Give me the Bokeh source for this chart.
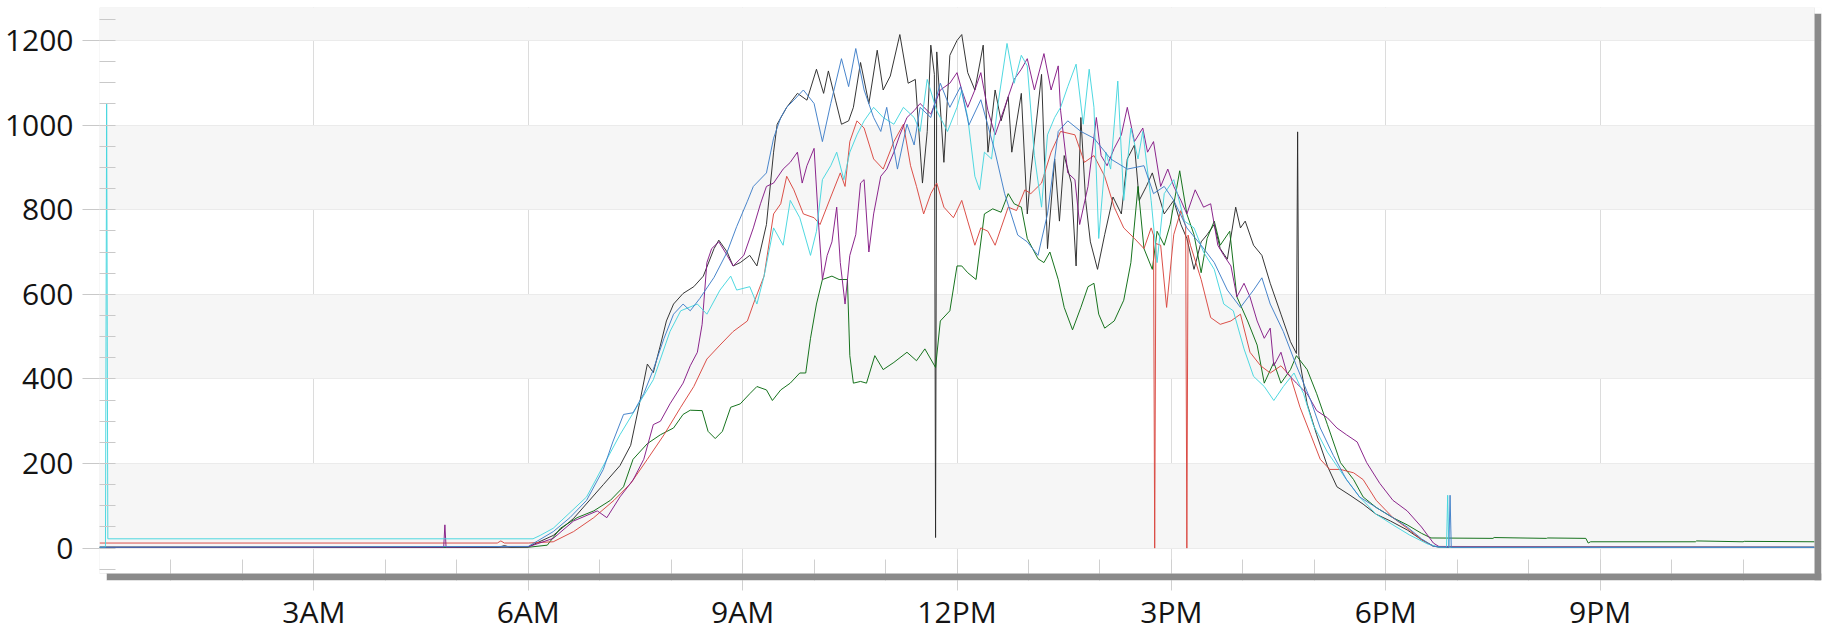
from bokeh.plotting import figure
from bokeh.models import (FixedTicker, SingleIntervalTicker, Range1d, BoxAnnotation, Label)
from bokeh.embed import file_html
from bokeh.resources import INLINE

# ---------------- data (time of day "H:MM", value) ----------------
x_tick_hours = [3, 6, 9, 12, 15, 18, 21]
x_tick_labels = ["3AM", "6AM", "9AM", "12PM", "3PM", "6PM", "9PM"]

black_time = ["0:00", "5:35", "5:40", "5:45", "6:00", "6:21", "6:38", "7:03", "7:17", "7:26", "7:34", "7:40", "7:45",
              "7:51", "7:56", "8:02", "8:10", "8:19", "8:27", "8:36", "8:40", "8:47", "8:52", "8:58", "9:06", "9:12",
              "9:20", "9:26", "9:29", "9:37", "9:46", "9:54", "10:02", "10:08", "10:12", "10:18", "10:23", "10:29",
              "10:33", "10:39", "10:46", "10:53", "10:58", "11:04", "11:12", "11:19", "11:25", "11:31", "11:35",
              "11:38", "11:41", "11:42", "11:43", "11:49", "11:54", "12:00", "12:04", "12:09", "12:15", "12:22",
              "12:26", "12:32", "12:37", "12:43", "12:46", "12:54", "12:59", "13:02", "13:11", "13:16", "13:22",
              "13:26", "13:30", "13:36", "13:40", "13:44", "13:48", "13:52", "13:58", "14:04", "14:11", "14:18",
              "14:23", "14:29", "14:33", "14:39", "14:44", "14:48", "14:54", "14:58", "15:02", "15:08", "15:13",
              "15:19", "15:25", "15:30", "15:36", "15:41", "15:47", "15:54", "15:58", "16:02", "16:09", "16:16",
              "16:23", "16:32", "16:40", "16:45", "16:46", "16:47", "16:54", "17:02", "17:11", "17:19", "17:30",
              "17:41", "17:52", "18:04", "18:18", "18:30", "18:40", "18:45", "24:00"]
black_value = [2, 2, 6, 2, 3, 30, 70, 150, 195, 243, 350, 435, 415,
               480, 537, 577, 602, 618, 643, 708, 728, 700, 667, 675, 692, 667,
               765, 936, 1002, 1042, 1075, 1059, 1132, 1075, 1128, 1059, 1002, 1010,
               1042, 1148, 1051, 1177, 1083, 1116, 1214, 1099, 1108, 863, 985,
               1189, 1120, 25, 1173, 912, 1165, 1200, 1214, 1124, 1083, 1189,
               936, 1083, 1010, 1067, 936, 1075, 790, 887, 1120, 708, 920,
               773, 928, 863, 667, 1018, 822, 724, 659, 741, 830, 790,
               920, 953, 822, 855, 887, 847, 790, 806, 822, 765, 732,
               659, 724, 741, 765, 708, 683, 806, 757, 773, 716, 692,
               626, 553, 488, 460, 984, 455, 341, 268, 194, 145, 125,
               104, 80, 64, 43, 20, 5, 2, 2]

blue_time = ["0:00", "6:00", "6:21", "6:35", "6:49", "7:03", "7:11", "7:20", "7:28", "7:37", "7:45", "7:54", "8:02",
             "8:10", "8:16", "8:24", "8:36", "8:47", "8:55", "9:04", "9:09", "9:20", "9:26", "9:32", "9:37", "9:43",
             "9:51", "10:00", "10:07", "10:14", "10:23", "10:29", "10:35", "10:42", "10:50", "10:56", "11:01",
             "11:10", "11:18", "11:24", "11:29", "11:38", "11:46", "11:54", "12:03", "12:10", "12:20", "12:32",
             "12:40", "12:51", "12:59", "13:08", "13:16", "13:25", "13:33", "13:44", "13:55", "14:09", "14:23",
             "14:37", "14:45", "14:54", "15:02", "15:13", "15:25", "15:36", "15:47", "15:58", "16:09", "16:16",
             "16:23", "16:34", "16:45", "16:57", "17:05", "17:16", "17:27", "17:38", "17:52", "18:06", "18:18",
             "18:30", "18:40", "18:53", "18:54", "18:55", "24:00"]
blue_value = [2, 4, 39, 72, 113, 186, 251, 316, 320, 365, 422, 496, 553,
              577, 561, 590, 640, 700, 760, 820, 855, 887, 969, 1018, 1042, 1059,
              1083, 1051, 961, 1051, 1157, 1091, 1181, 1083, 1018, 985, 1042,
              896, 1002, 953, 1042, 1018, 1099, 1042, 1091, 1000, 1060, 936,
              838, 740, 724, 692, 790, 985, 1010, 985, 969, 920, 896,
              904, 838, 855, 822, 757, 716, 675, 610, 569, 610, 639,
              577, 512, 431, 349, 284, 219, 162, 121, 96, 72, 50,
              22, 4, 2, 125, 2, 2]

cyan_time = ["0:00", "0:05", "0:06", "0:07", "6:04", "6:10", "6:21", "6:49", "7:17", "7:31", "7:45", "7:59", "8:08",
             "8:22", "8:30", "8:41", "8:50", "8:55", "9:06", "9:12", "9:18", "9:26", "9:34", "9:40", "9:48", "9:57",
             "10:02", "10:07", "10:14", "10:19", "10:25", "10:30", "10:36", "10:42", "10:50", "10:58", "11:07",
             "11:15", "11:24", "11:29", "11:35", "11:43", "11:52", "12:00", "12:04", "12:09", "12:15", "12:19",
             "12:23", "12:29", "12:34", "12:42", "12:48", "12:54", "12:59", "13:05", "13:11", "13:16", "13:22",
             "13:27", "13:33", "13:40", "13:46", "13:51", "13:55", "13:59", "14:05", "14:09", "14:15", "14:20",
             "14:26", "14:32", "14:36", "14:43", "14:48", "14:54", "15:02", "15:11", "15:19", "15:27", "15:36",
             "15:44", "15:52", "16:01", "16:09", "16:18", "16:26", "16:34", "16:43", "16:51", "16:59", "17:11",
             "17:25", "17:38", "17:52", "18:06", "18:20", "18:35", "18:45", "18:51", "18:52", "18:53", "24:00"]
cyan_value = [2, 2, 1050, 22, 22, 30, 47, 121, 268, 333, 398, 512, 561,
              577, 553, 610, 643, 610, 618, 577, 643, 757, 716, 822, 781, 692,
              749, 871, 904, 936, 871, 936, 977, 1010, 1042, 1018, 1002,
              1042, 1018, 985, 1108, 1034, 985, 1042, 1083, 1018, 879, 847,
              936, 920, 1042, 1193, 1099, 1165, 1140, 928, 806, 977, 1018,
              1042, 1091, 1144, 1002, 1132, 1042, 732, 936, 896, 1104, 822,
              993, 920, 985, 822, 675, 838, 871, 773, 757, 700, 659,
              577, 561, 471, 406, 382, 349, 382, 414, 365, 292, 227,
              170, 121, 80, 55, 31, 10, 2, 2, 125, 2, 2]

purple_time = ["0:00", "4:49", "4:50", "4:51", "6:00", "6:21", "6:38", "6:58", "7:06", "7:17", "7:28", "7:37", "7:45",
               "7:51", "7:59", "8:10", "8:16", "8:22", "8:26", "8:30", "8:34", "8:40", "8:47", "8:52", "9:01",
               "9:09", "9:15", "9:20", "9:26", "9:34", "9:40", "9:46", "9:50", "9:54", "10:00", "10:04", "10:07",
               "10:11", "10:15", "10:19", "10:22", "10:26", "10:30", "10:35", "10:39", "10:42", "10:46", "10:50",
               "10:56", "11:01", "11:07", "11:12", "11:18", "11:24", "11:29", "11:38", "11:46", "11:54", "12:00",
               "12:04", "12:09", "12:15", "12:20", "12:26", "12:32", "12:40", "12:48", "12:54", "12:59", "13:05",
               "13:13", "13:19", "13:25", "13:27", "13:33", "13:39", "13:43", "13:50", "13:57", "14:01", "14:06",
               "14:12", "14:18", "14:23", "14:29", "14:36", "14:40", "14:45", "14:51", "14:57", "15:02", "15:08",
               "15:13", "15:20", "15:27", "15:33", "15:39", "15:44", "15:50", "15:55", "16:01", "16:06", "16:12",
               "16:18", "16:23", "16:26", "16:32", "16:37", "16:45", "16:54", "17:02", "17:11", "17:19", "17:27",
               "17:36", "17:44", "17:55", "18:06", "18:18", "18:30", "18:40", "18:45", "24:00"]
purple_value = [2, 2, 55, 2, 3, 23, 64, 88, 72, 121, 161, 210, 292,
                300, 341, 390, 431, 463, 529, 675, 708, 724, 692, 667, 692,
                757, 814, 855, 863, 896, 912, 936, 863, 904, 945, 757, 635,
                692, 724, 806, 675, 577, 692, 741, 863, 871, 700, 790,
                879, 896, 936, 977, 1018, 1034, 1051, 1026, 1083, 1099, 1124,
                1083, 1042, 1083, 1124, 1034, 977, 1042, 1108, 1132, 1157, 1083,
                1169, 1083, 1140, 1034, 887, 871, 765, 855, 1018, 928, 904,
                945, 977, 1042, 961, 993, 936, 961, 855, 896, 855, 822,
                790, 847, 806, 814, 716, 692, 667, 594, 626, 594, 537,
                496, 520, 431, 463, 414, 390, 365, 325, 308, 284, 268,
                251, 202, 153, 113, 88, 50, 12, 3, 2]

red_time = ["0:00", "5:34", "5:37", "5:40", "6:00", "6:21", "6:38", "6:55", "7:12", "7:26", "7:40", "7:54", "8:08",
            "8:19", "8:30", "8:41", "8:52", "9:04", "9:09", "9:18", "9:26", "9:32", "9:37", "9:43", "9:51",
            "10:00", "10:05", "10:14", "10:22", "10:26", "10:30", "10:36", "10:42", "10:50", "10:58", "11:07",
            "11:15", "11:21", "11:26", "11:32", "11:38", "11:43", "11:49", "11:57", "12:04", "12:09", "12:15",
            "12:20", "12:26", "12:32", "12:37", "12:43", "12:50", "12:57", "13:02", "13:11", "13:19", "13:27",
            "13:39", "13:47", "13:55", "14:04", "14:12", "14:20", "14:29", "14:37", "14:43", "14:45", "14:46",
            "14:47", "14:51", "14:56", "15:02", "15:08", "15:12", "15:13", "15:14", "15:16", "15:25", "15:33",
            "15:41", "15:50", "15:58", "16:06", "16:15", "16:23", "16:32", "16:40", "16:48", "16:57", "17:05",
            "17:13", "17:22", "17:33", "17:41", "17:52", "18:06", "18:18", "18:30", "18:40", "24:00"]
red_value = [12, 12, 17, 12, 12, 15, 39, 72, 113, 153, 210, 268, 333,
             382, 447, 480, 512, 537, 577, 643, 790, 814, 879, 847, 790,
             781, 765, 830, 887, 855, 961, 1010, 993, 920, 896, 961,
             1002, 904, 855, 790, 838, 863, 806, 781, 822, 773, 716,
             757, 749, 716, 757, 806, 798, 847, 838, 863, 936, 985,
             977, 912, 928, 879, 806, 757, 732, 708, 757, 740, 0,
             720, 716, 569, 741, 798, 760, 0, 740, 716, 635, 545,
             529, 537, 553, 463, 431, 414, 431, 406, 333, 268, 210,
             186, 186, 178, 162, 113, 72, 47, 20, 4, 2]

green_time = ["0:00", "6:00", "6:16", "6:27", "6:41", "6:55", "7:09", "7:20", "7:28", "7:40", "7:51", "8:02", "8:10",
              "8:16", "8:26", "8:31", "8:37", "8:43", "8:50", "8:58", "9:06", "9:12", "9:20", "9:25", "9:32", "9:40",
              "9:48", "9:53", "9:57", "10:02", "10:07", "10:15", "10:21", "10:28", "10:30", "10:33", "10:39",
              "10:44", "10:51", "10:58", "11:07", "11:18", "11:26", "11:33", "11:42", "11:46", "11:54", "12:00",
              "12:04", "12:09", "12:16", "12:23", "12:30", "12:37", "12:43", "12:48", "12:54", "12:59", "13:08",
              "13:13", "13:18", "13:25", "13:30", "13:37", "13:44", "13:50", "13:55", "13:59", "14:04", "14:12",
              "14:20", "14:26", "14:32", "14:37", "14:44", "14:48", "14:54", "14:59", "15:07", "15:13", "15:19",
              "15:25", "15:30", "15:36", "15:41", "15:49", "15:55", "16:04", "16:12", "16:18", "16:26", "16:32",
              "16:40", "16:45", "16:54", "17:02", "17:11", "17:22", "17:33", "17:41", "17:52", "18:06", "18:18",
              "18:30", "18:38", "19:30", "19:31", "20:15", "20:16", "20:48", "20:50", "20:52", "22:20", "22:21",
              "23:00", "23:01", "24:00"]
green_value = [2, 2, 7, 47, 72, 88, 113, 145, 210, 247, 268, 284, 316,
               326, 325, 276, 259, 276, 333, 341, 365, 382, 374, 349, 374, 390,
               414, 414, 496, 577, 635, 643, 635, 635, 455, 390, 394,
               390, 455, 422, 439, 463, 443, 471, 427, 537, 561, 667,
               667, 651, 635, 790, 802, 794, 838, 814, 806, 732, 684,
               675, 700, 635, 569, 516, 569, 618, 626, 553, 520, 537,
               586, 675, 855, 708, 659, 749, 716, 765, 892, 790, 741,
               651, 732, 773, 716, 749, 594, 537, 480, 390, 439, 390,
               422, 455, 422, 365, 292, 202, 162, 121, 96, 72, 55,
               35, 24, 23, 25, 23, 24, 23, 12, 15, 15, 17,
               15, 16, 15]

series = [
    ("black", black_time, black_value, "#2b2b2b"),
    ("green", green_time, green_value, "#0b6b12"),
    ("red", red_time, red_value, "#d9473f"),
    ("purple", purple_time, purple_value, "#851a86"),
    ("cyan", cyan_time, cyan_value, "#46d6de"),
    ("blue", blue_time, blue_value, "#3f7ec8"),
]


def to_hours(ts):
    out = []
    for t in ts:
        h, m = t.split(":")
        out.append(int(h) + int(m) / 60.0)
    return out


FONT = "Open Sans"

# visible plot area and its drop shadow (pixels)
X0, X1 = 0, 24          # hours shown
Y0, Y1 = -60, 1278      # values shown
PW, PH = 1715, 566      # visible plot size in px
SH = 7                  # shadow offset / extra frame in px
px_x = PW / (X1 - X0)
px_y = PH / (Y1 - Y0)
x_end = X1 + SH / px_x
y_start = Y0 - SH / px_y

p = figure(output_backend="svg", toolbar_location=None,
           frame_width=PW + SH, frame_height=PH + SH,
           min_border_left=99, min_border_top=7, min_border_right=4, min_border_bottom=40,
           x_range=Range1d(X0, x_end), y_range=Range1d(y_start, Y1),
           background_fill_color="white", border_fill_color="white")

p.outline_line_color = None

# grids
p.xgrid.ticker = FixedTicker(ticks=x_tick_hours)
p.xgrid.grid_line_color = "#dcdcdc"
p.ygrid.grid_line_color = "#ebebeb"
p.ygrid.band_fill_color = "#f6f6f6"
p.ygrid.band_fill_alpha = 1.0

# x axis
xa = p.xaxis[0]
xa.ticker = FixedTicker(ticks=x_tick_hours, minor_ticks=list(range(1, 24)))
xa.major_label_overrides = {h: lab for h, lab in zip(x_tick_hours, x_tick_labels)}
xa.axis_line_color = None
xa.major_tick_line_color = "#d0d0d0"
xa.minor_tick_line_color = "#d0d0d0"
xa.major_tick_out = 10
xa.major_tick_in = 0
xa.minor_tick_in = SH + 14
xa.minor_tick_out = 0
xa.major_label_standoff = 0
xa.major_label_text_font = FONT
xa.major_label_text_font_size = "30px"
xa.major_label_text_color = "#141414"

# y axis
ya = p.yaxis[0]
ya.ticker = SingleIntervalTicker(interval=200, num_minor_ticks=4)
ya.axis_line_color = None
ya.major_tick_line_color = "#c9c9c9"
ya.minor_tick_line_color = "#c9c9c9"
ya.major_tick_out = 17
ya.major_tick_in = 0
ya.minor_tick_in = 16
ya.minor_tick_out = 0
ya.major_label_standoff = 9
ya.major_label_text_font = FONT
ya.major_label_text_font_size = "30px"
ya.major_label_text_color = "#141414"

for name, ts, vs, col in series:
    p.line(to_hours(ts), vs, line_color=col, line_width=1, line_alpha=0.95)

# drop shadow (right and bottom) and white corners of the extra frame strip
shadow = "#8a8a8a"
top_gap = Y1 - 6 / px_y
left_gap = X0 + SH / px_x
p.add_layout(BoxAnnotation(left=X1, right=None, top=top_gap, bottom=None,
                           fill_color=shadow, fill_alpha=1.0, line_alpha=0.0))
p.add_layout(BoxAnnotation(left=left_gap, right=None, top=Y0, bottom=None,
                           fill_color=shadow, fill_alpha=1.0, line_alpha=0.0))
p.add_layout(BoxAnnotation(left=X1, right=None, top=None, bottom=top_gap,
                           fill_color="white", fill_alpha=1.0, line_alpha=0.0))
p.add_layout(BoxAnnotation(left=None, right=left_gap, top=Y0, bottom=None,
                           fill_color="white", fill_alpha=1.0, line_alpha=0.0))
# outline of the visible plot area
p.add_layout(BoxAnnotation(left=X0, right=X1, top=Y1, bottom=Y0,
                           fill_alpha=0.0, line_color="#c9c9c9", line_width=1))

p.add_layout(Label(x=18.44, y=Y0 - 12 / px_y, text="Full-screen Snip", text_font=FONT,
                   text_font_size="13px", text_color="#e4e4e4", text_baseline="middle"))

open("out.html", "w").write(file_html(p, INLINE))
